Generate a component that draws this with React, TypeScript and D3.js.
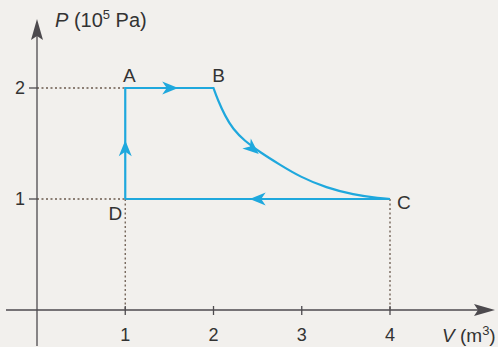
import React from "react";
import * as d3 from "d3";

// Cycle vertices (V in m³, P in 10⁵ Pa)
const pointNames = ["A", "B", "C", "D"];
const pointV = [1, 2, 4, 1];
const pointP = [2, 2, 1, 1];

// Expansion B → C
const curveV = [2, 2.05, 2.13, 2.22, 2.35, 2.53, 2.75, 2.98, 3.28, 3.58, 3.89, 4];
const curveP = [2, 1.89, 1.75, 1.63, 1.525, 1.42, 1.31, 1.2, 1.1, 1.04, 1.005, 1];

const xTicks = [1, 2, 3, 4];
const yTicks = [1, 2];

const W = 498;
const H = 347;
const BLUE = "#1fa8dd";
const AXIS = "#4d4a4e";
const FONT = "'Liberation Sans', Arial, Helvetica, sans-serif";

export default function App() {
  const x = d3.scaleLinear().domain([0, 4]).range([37, 390]);
  const y = d3.scaleLinear().domain([0, 2]).range([310, 88]);

  const [A, B, C, D] = pointV.map((v, i) => [x(v), y(pointP[i])] as [number, number]);

  const curvePts: [number, number][] = curveV.map((v, i) => [x(v), y(curveP[i])]);
  const curvePath = d3.line().curve(d3.curveBasis)(curvePts) || "";

  const cyclePath =
    `M${D[0]},${D[1]} L${A[0]},${A[1]} L${B[0]},${B[1]} ` +
    curvePath.replace(/^M[^CL]*/, "") +
    ` L${D[0]},${D[1]}`;

  // Arrow head: tip at origin pointing along +x, notched back
  const head = "M0,0 L-16,-6.5 L-11.5,0 L-16,6.5 Z";
  const arrow = (tx: number, ty: number, angle: number, key: string) => (
    <path key={key} d={head} fill={BLUE} transform={`translate(${tx},${ty}) rotate(${angle})`} />
  );

  // Arrow on the curve at the sixth sample, aligned with the local chord
  const ia = 5;
  const ang =
    (Math.atan2(curvePts[ia][1] - curvePts[ia - 2][1], curvePts[ia][0] - curvePts[ia - 2][0]) * 180) /
    Math.PI;

  return (
    <svg width={W} height={H} style={{ position: "absolute", left: 0, top: 0, background: "#f2f0ed" }}>
      <rect width={W} height={H} fill="#f2f0ed" />

      {/* dotted guides */}
      <g stroke="#6b5a4e" strokeWidth={1.3} strokeDasharray="2,2.5" fill="none">
        <line x1={x(0)} y1={A[1]} x2={A[0]} y2={A[1]} />
        <line x1={x(0)} y1={D[1]} x2={D[0]} y2={D[1]} />
        <line x1={D[0]} y1={D[1]} x2={D[0]} y2={y(0)} />
        <line x1={C[0]} y1={C[1]} x2={C[0]} y2={y(0)} />
      </g>

      {/* axes */}
      <g stroke={AXIS} strokeWidth={1.3}>
        <line x1={x(0)} y1={346} x2={x(0)} y2={30} />
        <line x1={6} y1={y(0)} x2={484} y2={y(0)} />
        {xTicks.map((t) => (
          <line key={`xt${t}`} x1={x(t)} y1={y(0) - 4} x2={x(t)} y2={y(0) + 5} />
        ))}
        {yTicks.map((t) => (
          <line key={`yt${t}`} x1={x(0) - 8} y1={y(t)} x2={x(0)} y2={y(t)} />
        ))}
      </g>
      <path d={`M${x(0)},19 L${x(0) - 6},40 L${x(0)},36 L${x(0) + 6},40 Z`} fill={AXIS} />
      <path d={`M495,${y(0)} L474,${y(0) - 6} L478,${y(0)} L474,${y(0) + 6} Z`} fill={AXIS} />

      {/* cycle */}
      <path d={cyclePath} fill="none" stroke={BLUE} strokeWidth={2.2} strokeLinejoin="miter" />
      {arrow(x(1.6), A[1], 0, "ab")}
      {arrow(curvePts[ia][0] - 1.5, curvePts[ia][1] + 1.5, ang, "bc")}
      {arrow(x(2.41), D[1], 180, "cd")}
      {arrow(D[0], y(1.53), -90, "da")}

      {/* text */}
      <g fontFamily={FONT} fill="#333" fontSize={18}>
        <text x={55} y={27} fontSize={20}>
          <tspan fontStyle="italic">P</tspan> (10<tspan fontSize={13} dy={-8}>5</tspan>
          <tspan dy={8}> Pa)</tspan>
        </text>
        <text x={442} y={342} fontSize={19}>
          <tspan fontStyle="italic">V</tspan> (m<tspan fontSize={13} dy={-7}>3</tspan>
          <tspan dy={7}>)</tspan>
        </text>
        {xTicks.map((t) => (
          <text key={`xl${t}`} x={x(t)} y={341} textAnchor="middle">
            {t}
          </text>
        ))}
        {yTicks.map((t) => (
          <text key={`yl${t}`} x={20} y={y(t) + 6} textAnchor="middle">
            {t}
          </text>
        ))}
        <text x={A[0] + 4} y={A[1] - 6} textAnchor="middle" fontSize={19}>{pointNames[0]}</text>
        <text x={B[0] + 5} y={B[1] - 6} textAnchor="middle" fontSize={19}>{pointNames[1]}</text>
        <text x={C[0] + 7} y={C[1] + 10} fontSize={19}>{pointNames[2]}</text>
        <text x={D[0] - 10} y={D[1] + 21} textAnchor="middle" fontSize={19}>{pointNames[3]}</text>
      </g>
    </svg>
  );
}
